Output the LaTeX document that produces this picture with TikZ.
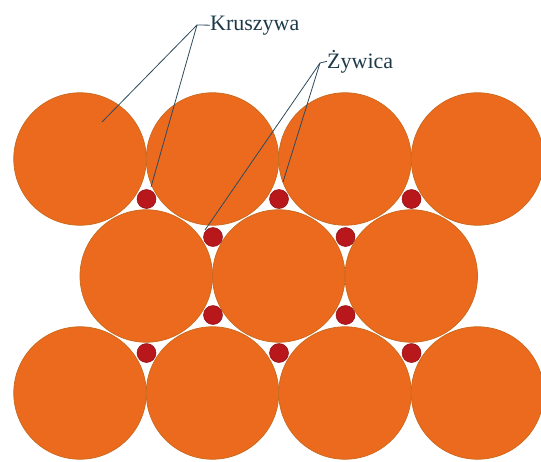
\documentclass[tikz,border=0pt]{standalone}
\usepackage{fontspec}
\setmainfont{Liberation Serif}
\definecolor{grain}{HTML}{EC6A1E}
\definecolor{grainedge}{HTML}{C9681C}
\definecolor{resin}{HTML}{B8171C}
\definecolor{resinedge}{HTML}{8E1015}
\definecolor{leader}{HTML}{2E4A5A}
\definecolor{labeltext}{HTML}{1E3A4A}
\begin{document}
\begin{tikzpicture}[x=1pt,y=-1pt,
  grainnode/.style={circle,fill=grain,draw=grainedge,line width=0.7pt,minimum size=132.5pt,inner sep=0pt},
  resinnode/.style={circle,fill=resin,draw=resinedge,line width=0.5pt,minimum size=19pt,inner sep=0pt},
  labelnode/.style={anchor=base west,inner sep=0pt,text=labeltext,font=\fontsize{22}{26}\selectfont},
  leaderline/.style={draw=leader,line width=0.8pt}]
\useasboundingbox (0,0) rectangle (541,461);
% aggregate grains
\node[grainnode] (g11) at (80,159) {};
\node[grainnode] (g12) at (212.5,159) {};
\node[grainnode] (g13) at (345,159) {};
\node[grainnode] (g14) at (477.5,159) {};
\node[grainnode] (g21) at (146.25,276) {};
\node[grainnode] (g22) at (278.75,276) {};
\node[grainnode] (g23) at (411.25,276) {};
\node[grainnode] (g31) at (80,393) {};
\node[grainnode] (g32) at (212.5,393) {};
\node[grainnode] (g33) at (345,393) {};
\node[grainnode] (g34) at (477.5,393) {};
% resin dots
\node[resinnode] (r11) at (146.5,199) {};
\node[resinnode] (r12) at (279,199) {};
\node[resinnode] (r13) at (411.5,199) {};
\node[resinnode] (r21) at (213,237) {};
\node[resinnode] (r22) at (345.5,237) {};
\node[resinnode] (r31) at (213,315) {};
\node[resinnode] (r32) at (345.5,315) {};
\node[resinnode] (r41) at (146.5,353) {};
\node[resinnode] (r42) at (279,353) {};
\node[resinnode] (r43) at (411.5,353) {};
% labels
\node[labelnode] (kr) at (210,30) {Kruszywa};
\node[labelnode] (zy) at (327,68) {Żywica};
% leader points
\coordinate (ks) at (197,25);
\coordinate (k1) at (102,122);
\coordinate (k2) at (151,187);
\coordinate (zs) at (320,63);
\coordinate (z1) at (205,230);
\coordinate (z2) at (283,182);
\draw[leaderline] (kr.west) -- (ks) -- (k1);
\draw[leaderline] (ks) -- (k2);
\draw[leaderline] (zy.west) -- (zs) -- (z1);
\draw[leaderline] (zs) -- (z2);
\end{tikzpicture}
\end{document}
